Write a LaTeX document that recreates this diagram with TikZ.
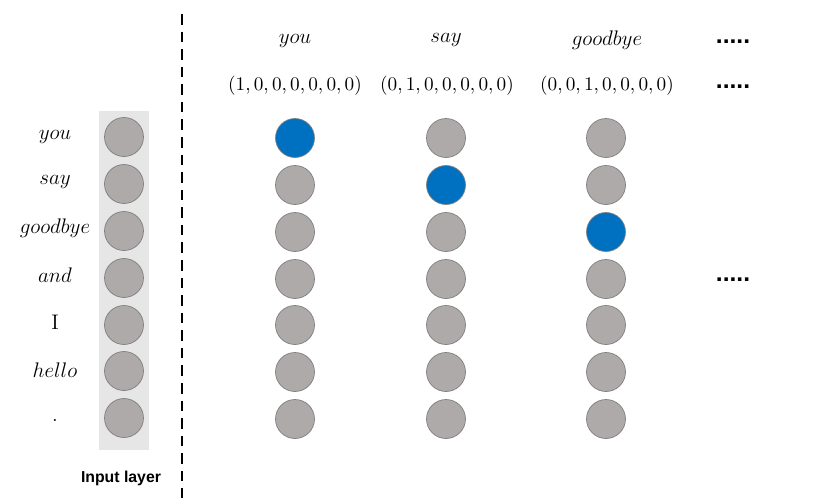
\documentclass[tikz,border=0pt]{standalone}
\usepackage{fontspec}
\newfontfamily\labelfont{Liberation Sans}
\definecolor{cellgray}{HTML}{AEAAAA}
\definecolor{cellblue}{HTML}{0070C0}
\definecolor{celledge}{HTML}{7F7F7F}
\definecolor{bandgray}{HTML}{E7E6E6}
\begin{document}
\begin{tikzpicture}[
        x=0.02cm, y=-0.02cm,
        cell/.style={draw=celledge, fill=cellgray, circle, minimum size=0.78cm, inner sep=0pt},
        hot/.style={cell, fill=cellblue},
        word/.style={font=\fontsize{12}{14}\selectfont},
        vec/.style={font=\fontsize{11}{13}\selectfont},
        more/.style={font=\labelfont\bfseries\fontsize{14}{16}\selectfont}
    ]
        \useasboundingbox (0,0) rectangle (816,504);

        % Input layer band
        \fill[bandgray] (99,111) rectangle (149,450);
        \node[font=\labelfont\bfseries\fontsize{9}{11}\selectfont] (inlabel) at (121,478) {Input layer};

        % separator
        \coordinate (septop) at (182,14);
        \coordinate (sepbot) at (182,498);
        \draw[dashed, line width=1.2pt, dash pattern=on 6pt off 4pt] (septop) -- (sepbot);

        % input words and neurons
        \foreach \w/\ly/\y [count=\i] in {{$you$}/137/137, {$say$}/182/184, {$goodbye$}/228/231,
                {$and$}/275/278, {I}/322/325, {$hello$}/370/371, {.}/420/418} {
            \node[word] (w\i) at (55,\ly) {\w};
            \node[cell] (in\i) at (124,\y) {};
        }

        % one-hot columns
        \node[word] (t1) at (295,41) {$you$};
        \node[word] (t2) at (446,40) {$say$};
        \node[word] (t3) at (607,40) {$goodbye$};
        \node[vec] (v1) at (295,86) {$(1,0,0,0,0,0,0)$};
        \node[vec] (v2) at (447,86) {$(0,1,0,0,0,0,0)$};
        \node[vec] (v3) at (607,86) {$(0,0,1,0,0,0,0)$};

        \foreach \x [count=\c] in {295,446,606} {
            \foreach \y [count=\r] in {138,185,232,279,325,372,419} {
                \ifnum\c=\r
                    \node[hot] (c\c r\r) at (\x,\y) {};
                \else
                    \node[cell] (c\c r\r) at (\x,\y) {};
                \fi
            }
        }

        % continuation marks
        \node[more] (dots1) at (733,42) {.....};
        \node[more] (dots2) at (733,87) {.....};
        \node[more] (dots3) at (733,280) {.....};
    \end{tikzpicture}
\end{document}
